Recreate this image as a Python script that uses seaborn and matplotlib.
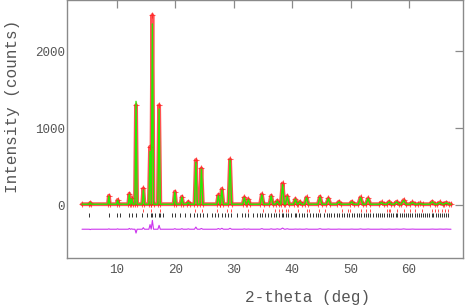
import numpy as np
import pandas as pd
import matplotlib
matplotlib.use("Agg")
import matplotlib.pyplot as plt
import seaborn as sns

# ---- data ----
peak_pos = [5.4, 8.6, 10.1, 12.1, 12.5, 13.25, 14.5, 15.65, 16.05, 17.2,
            19.9, 21.1, 22.2, 23.5, 24.45, 27.35, 27.95, 29.35, 31.8, 32.5,
            34.8, 36.4, 37.45, 38.35, 39.15, 40.55, 41.3, 42.45, 44.75, 46.2,
            48.0, 50.2, 51.7, 53.0, 55.3, 56.6, 57.9, 59.1, 60.6, 61.9,
            64.0, 65.3, 66.4]
peak_obs = [30, 125, 70, 150, 90, 1300, 220, 760, 2470, 1300,
            177, 112, 45, 588, 480, 134, 212, 597, 104, 78,
            143, 125, 60, 285, 121, 82, 47, 104, 112, 91,
            47, 47, 104, 91, 39, 47, 47, 69, 39, 26,
            47, 39, 35]
peak_calc = [35, 120, 65, 140, 85, 1350, 200, 700, 2355, 1250,
             170, 105, 40, 560, 470, 125, 200, 585, 100, 75,
             135, 120, 55, 270, 115, 80, 45, 100, 105, 88,
             45, 45, 100, 88, 37, 45, 45, 65, 37, 25,
             45, 37, 33]
background = 15
scan_start, scan_end = 4.0, 67.2
diff_offset = -310

phase1_ticks = [5.25, 8.7, 10.05, 10.5, 12.1, 12.5, 13.25, 14.2, 15.1, 15.8,
                16.05, 16.5, 17.2, 17.4, 17.9, 19.4, 19.9, 20.8, 21.6, 22.5,
                23.1, 23.65, 24.2, 24.8, 25.35, 26.2, 26.8, 27.35, 27.9, 28.5,
                29.05, 29.6, 30.5, 31.35, 31.9, 32.5, 33.35, 33.9, 34.4, 34.8,
                35.3, 35.9, 36.4, 36.8, 37.3, 37.7, 38.2, 38.4, 38.9, 39.3,
                39.8, 40.4, 40.6, 41.2, 41.7, 42.1, 42.5, 43.0, 43.6, 44.1,
                44.5, 44.8, 45.4, 45.9, 46.3, 46.7, 47.2, 47.6, 48.1, 48.5,
                48.9, 49.4, 49.8, 50.2, 50.6, 51.1, 51.5, 51.8, 52.3, 52.6,
                53.0, 53.4, 53.9, 54.3, 54.7, 55.0, 55.4, 55.8, 56.2, 56.6,
                56.9, 57.3, 57.7, 58.0, 58.4, 58.8, 59.1, 59.5, 59.9, 60.2,
                60.6, 61.0, 61.3, 61.7, 62.1, 62.4, 62.8, 63.1, 63.5, 63.9,
                64.2, 64.6, 64.9, 65.3, 65.6, 66.0, 66.3, 66.7]
phase2_ticks = [14.5, 15.9, 17.4, 23.4, 24.5, 27.1, 28.8, 29.5, 32.5, 35.0,
                37.0, 37.8, 38.3, 38.9, 39.2, 41.0, 42.5, 42.9, 44.6, 45.6,
                48.5, 49.6, 49.9, 51.8, 52.7, 53.3, 56.2, 56.5, 56.8, 57.9,
                59.1, 60.2, 61.0, 62.2, 63.9, 64.5, 65.0, 65.6, 66.2, 66.7]

x_ticks = [10, 20, 30, 40, 50, 60]
y_ticks = [0, 1000, 2000]

# ---- build profile table ----
rows = [(scan_start, background, background)]
for p, o, c in zip(peak_pos, peak_obs, peak_calc):
    hw = 0.12 + 0.005 * p
    rows += [(p - hw, background, background), (p, o, c), (p + hw, background, background)]
rows.append((scan_end, background, background))
df = pd.DataFrame(rows, columns=["tt", "obs", "calc"]).sort_values("tt").reset_index(drop=True)
df["diff"] = df["obs"] - df["calc"] + diff_offset

sns.set_theme(style="white")
plt.rcParams["font.family"] = ["Liberation Mono", "DejaVu Sans Mono"]

fig = plt.figure(figsize=(4.65, 3.05), dpi=100)
ax = fig.add_axes([0.145, 0.154, 0.850, 0.845])

sns.lineplot(data=df, x="tt", y="obs", color="#ff1a1a", lw=2.8, sort=False,
             estimator=None, ax=ax, alpha=0.75)
sns.scatterplot(data=df, x="tt", y="obs", marker="+", color="#ff2020", s=22,
                linewidth=0.8, alpha=0.7, ax=ax)
sns.lineplot(data=df, x="tt", y="calc", color="#22ee00", lw=1.0, sort=False,
             estimator=None, ax=ax)
sns.lineplot(data=df, x="tt", y="diff", color="#cc33ee", lw=0.8, sort=False,
             estimator=None, ax=ax)

ax.vlines(phase2_ticks, -85, -48, color="#ff3030", lw=0.6)
ax.vlines(phase1_ticks, -150, -105, color="#111111", lw=0.6)

ax.set_xlim(1.5, 69.2)
ax.set_ylim(-684, 2662)
ax.set_xticks(x_ticks)
ax.set_yticks(y_ticks)

grey = "#8a8a8a"
for s in ax.spines.values():
    s.set_color(grey)
    s.set_linewidth(1.0)
ax.tick_params(which="both", direction="in", top=True, right=True, length=6,
               width=0.9, color=grey, labelcolor="#555555", labelsize=9)
ax.tick_params(axis="y", pad=2)
ax.tick_params(axis="x", pad=4)

ax.set_xlabel("2-theta (deg)", fontsize=11.5, color="#555555")
ax.set_ylabel("Intensity (counts)", fontsize=11.5, color="#555555")
ax.xaxis.set_label_coords(0.607, -0.155)
ax.xaxis.label.set_va("center")
ax.yaxis.set_label_coords(-0.14, 0.589)
ax.yaxis.label.set_va("center")

fig.savefig("out.png", dpi=100)
